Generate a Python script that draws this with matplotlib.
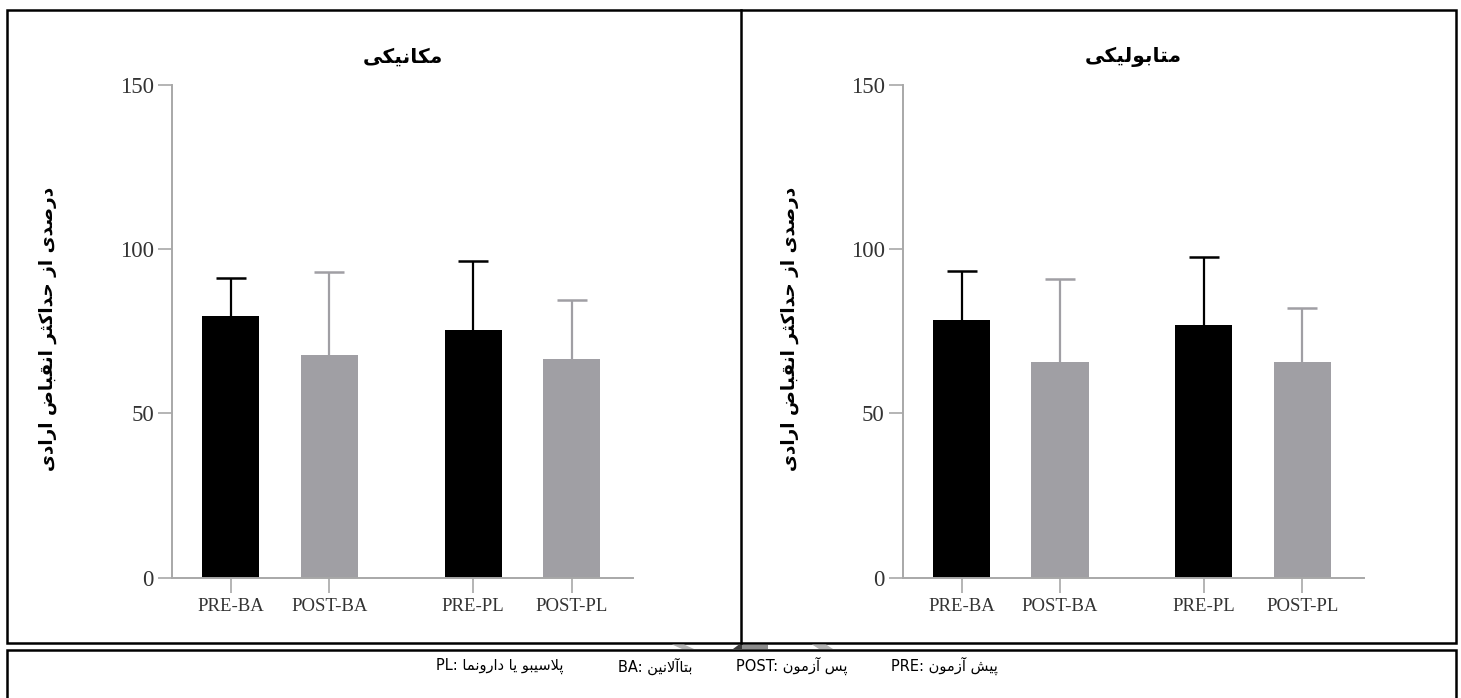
import matplotlib
matplotlib.use('Agg')
import matplotlib.pyplot as plt
from matplotlib.patches import Rectangle, Polygon
from matplotlib.lines import Line2D

# ---------------- data ----------------
groups = ['PRE-BA', 'POST-BA', 'PRE-PL', 'POST-PL']
mech_mean = [79.7, 67.7, 75.4, 66.6]
mech_sd = [11.6, 25.4, 21.0, 18.0]
meta_mean = [78.4, 65.6, 76.8, 65.6]
meta_sd = [15.0, 25.2, 20.7, 16.6]
yticks = [0, 50, 100, 150]
title_mech = 'مکانیکی'
title_meta = 'متابولیکی'
ylabel_text = 'درصدی از حداکثر انقباض ارادی'
footer_items = [('PL', 'پلاسیبو یا دارونما'), ('BA', 'بتاآلانین'),
                ('POST', 'پس آزمون'), ('PRE', 'پیش آزمون')]

# ---------------- minimal Persian shaping ----------------
FORMS = {
    '\u0622': ('\uFE81', '\uFE82', None, None),
    '\u0627': ('\uFE8D', '\uFE8E', None, None),
    '\u0628': ('\uFE8F', '\uFE90', '\uFE91', '\uFE92'),
    '\u067E': ('\uFB56', '\uFB57', '\uFB58', '\uFB59'),
    '\u062A': ('\uFE95', '\uFE96', '\uFE97', '\uFE98'),
    '\u062B': ('\uFE99', '\uFE9A', '\uFE9B', '\uFE9C'),
    '\u062D': ('\uFEA1', '\uFEA2', '\uFEA3', '\uFEA4'),
    '\u062F': ('\uFEA9', '\uFEAA', None, None),
    '\u0631': ('\uFEAD', '\uFEAE', None, None),
    '\u0632': ('\uFEAF', '\uFEB0', None, None),
    '\u0633': ('\uFEB1', '\uFEB2', '\uFEB3', '\uFEB4'),
    '\u0634': ('\uFEB5', '\uFEB6', '\uFEB7', '\uFEB8'),
    '\u0635': ('\uFEB9', '\uFEBA', '\uFEBB', '\uFEBC'),
    '\u0636': ('\uFEBD', '\uFEBE', '\uFEBF', '\uFEC0'),
    '\u0642': ('\uFED5', '\uFED6', '\uFED7', '\uFED8'),
    '\u06A9': ('\uFB8E', '\uFB8F', '\uFB90', '\uFB91'),
    '\u0644': ('\uFEDD', '\uFEDE', '\uFEDF', '\uFEE0'),
    '\u0645': ('\uFEE1', '\uFEE2', '\uFEE3', '\uFEE4'),
    '\u0646': ('\uFEE5', '\uFEE6', '\uFEE7', '\uFEE8'),
    '\u0648': ('\uFEED', '\uFEEE', None, None),
    '\u06CC': ('\uFBFC', '\uFBFD', '\uFBFE', '\uFBFF'),
}


def _dual(c):
    return c in FORMS and FORMS[c][2] is not None


def shape(txt):
    out = []
    n = len(txt)
    i = 0
    while i < n:
        c = txt[i]
        if c in FORMS:
            prev = txt[i - 1] if i > 0 else ''
            cp = _dual(prev)
            if c == '\u0644' and i + 1 < n and txt[i + 1] in ('\u0627', '\u0622'):
                if txt[i + 1] == '\u0627':
                    out.append('\uFEFC' if cp else '\uFEFB')
                else:
                    out.append('\uFEF6' if cp else '\uFEF5')
                i += 2
                continue
            nxt = txt[i + 1] if i + 1 < n else ''
            cn = _dual(c) and nxt in FORMS
            iso, fin, ini, med = FORMS[c]
            if cp and cn:
                out.append(med)
            elif cp:
                out.append(fin)
            elif cn:
                out.append(ini)
            else:
                out.append(iso)
        else:
            out.append(c)
        i += 1
    return ''.join(out)


def rtl(txt):
    return shape(txt)[::-1]


# ---------------- figure ----------------
W, H = 1461, 698
fig = plt.figure(figsize=(W / 100, H / 100), dpi=100)
fig.patch.set_facecolor('white')


def fx(x):
    return x / W


def fy(y):
    return 1 - y / H


positions = [0, 1, 2.46, 3.46]
bar_colors = ['#000000', '#a09fa4', '#000000', '#a09fa4']
axis_gray = '#a8a8a8'
persian_font = ['DejaVu Sans']
serif = ['Liberation Serif', 'DejaVu Serif']

ax_w = 461 / W
ax_h = (577.5 - 85) / H
ax_b = fy(577.5)
panels = [
    (172, mech_mean, mech_sd, title_mech, 48),
    (902.7, meta_mean, meta_sd, title_meta, 790),
]

for left_px, means, sds, ttl, ylab_x in panels:
    ax = fig.add_axes([fx(left_px), ax_b, ax_w, ax_h])
    ax.bar(positions, means, width=0.58, color=bar_colors, zorder=2)
    for p, m, s, c in zip(positions, means, sds, bar_colors):
        _, caps, _ = ax.errorbar([p], [m], yerr=[[0], [s]], fmt='none', ecolor=c,
                                 elinewidth=1.6, capsize=10.5, capthick=1.8,
                                 zorder=1)
        caps[0].set_visible(False)
    ax.set_xlim(-0.597, 4.083)
    ax.set_ylim(0, 150)
    ax.set_yticks(yticks)
    ax.set_xticks(positions)
    ax.set_xticklabels(groups)
    for sp in ['top', 'right']:
        ax.spines[sp].set_visible(False)
    for sp in ['left', 'bottom']:
        ax.spines[sp].set_color(axis_gray)
        ax.spines[sp].set_linewidth(1.4)
    ax.tick_params(axis='y', length=10, width=1.2, color=axis_gray,
                   labelsize=16.5, labelcolor='#333333', pad=3)
    ax.tick_params(axis='x', length=11, width=1.2, color=axis_gray,
                   labelsize=13.5, labelcolor='#333333', pad=3.5)
    for lab in ax.get_xticklabels() + ax.get_yticklabels():
        lab.set_fontfamily(serif)
    ax.patch.set_alpha(0)
    # title
    fig.text(fx(left_px + 230.5), fy(57), rtl(ttl), ha='center', va='center',
             fontsize=14.5, fontweight='bold', family=persian_font)
    # y label
    fig.text(fx(ylab_x), fy(329), rtl(ylabel_text), ha='center', va='center',
             rotation=90, fontsize=13.3, fontweight='bold', family=persian_font)

# frames
frame_lw = 1.8
fig.add_artist(Rectangle((fx(7), fy(643)), fx(1456) - fx(7), fy(10) - fy(643),
                         transform=fig.transFigure, fill=False,
                         edgecolor='black', linewidth=frame_lw))
fig.add_artist(Line2D([fx(741), fx(741)], [fy(10), fy(643)],
                      transform=fig.transFigure, color='black', linewidth=frame_lw))
fig.add_artist(Rectangle((fx(7), fy(710)), fx(1456) - fx(7), fy(650) - fy(710),
                         transform=fig.transFigure, fill=False,
                         edgecolor='black', linewidth=frame_lw, clip_on=False))

# faint gray shapes visible in the gap between the two frames
gap_shapes = [
    ([(672, 644.5), (684, 644.5), (694, 649), (682, 649)], '#b4b4b4'),
    ([(733, 649), (739, 644.5), (742, 644.5), (742, 649)], '#3a3a3a'),
    ([(742, 644.5), (768, 644.5), (768, 649), (742, 649)], '#8c8c8c'),
    ([(812, 644.5), (826, 644.5), (833, 649), (819, 649)], '#b4b4b4'),
]
for pts, col in gap_shapes:
    fig.add_artist(Polygon([(fx(x), fy(y)) for x, y in pts], closed=True,
                           transform=fig.transFigure, facecolor=col,
                           edgecolor='none'))

# footer legend (visual order left to right)
footer_x = [500, 655, 792, 944]
for (abbr, desc), xc in zip(footer_items, footer_x):
    fig.text(fx(xc), fy(666), abbr + ': ' + rtl(desc), ha='center', va='center',
             fontsize=10.5, family=persian_font, color='black')

fig.savefig('out.png', dpi=100, facecolor='white')
